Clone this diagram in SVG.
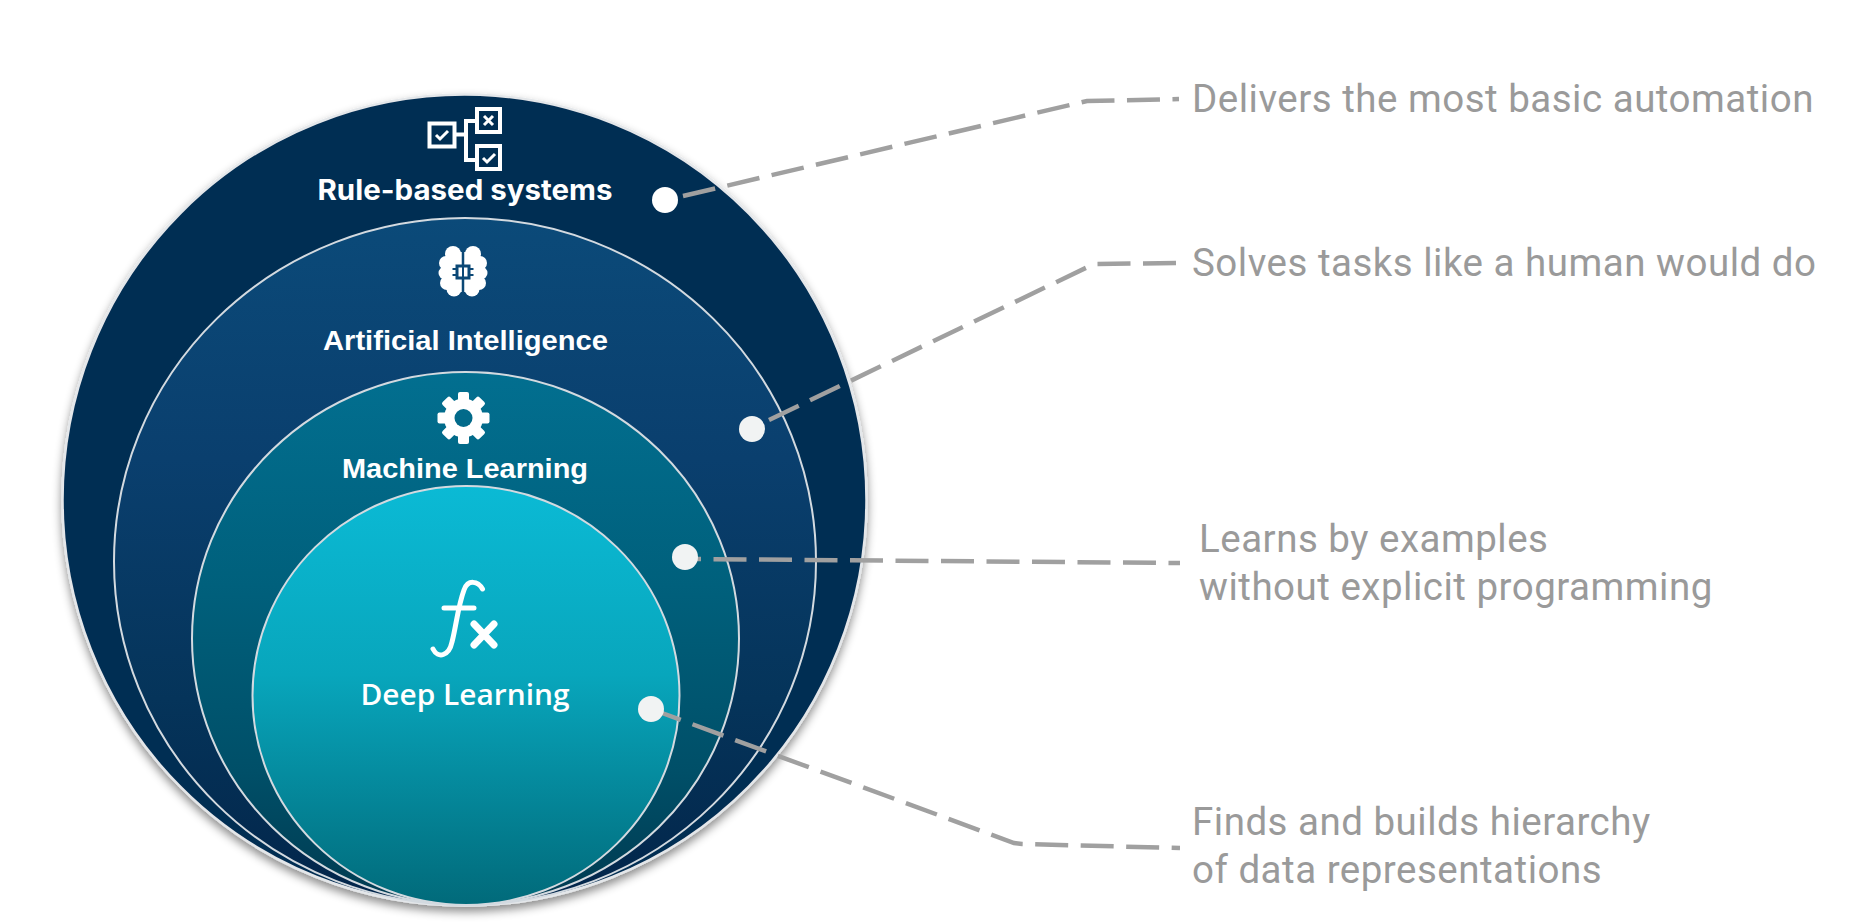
<svg xmlns="http://www.w3.org/2000/svg" width="1854" height="924" viewBox="0 0 1854 924">
<style>
.cap{font-family:"Roboto","Liberation Sans",sans-serif;font-size:38.5px;fill:#9a9a9a;letter-spacing:.5px}
.lab{fill:#fff;text-anchor:middle}
.ring{stroke:#d3dae0;stroke-width:2}
.con{fill:none;stroke:#a0a0a0;stroke-width:4.5;stroke-dasharray:33 12.5}
.ic{fill:none;stroke:#fff;stroke-width:4}
.dot{fill:#f1f3f3}
</style>
<defs>
<linearGradient id="g2" x1="0" y1="0" x2="0" y2="1"><stop offset="0" stop-color="#0b4a79"/><stop offset=".35" stop-color="#0a3f6e"/><stop offset=".7" stop-color="#05345a"/><stop offset="1" stop-color="#02254a"/></linearGradient>
<linearGradient id="g3" x1="0" y1="0" x2="0" y2="1"><stop offset="0" stop-color="#026f90"/><stop offset=".4" stop-color="#00607c"/><stop offset=".75" stop-color="#004f68"/><stop offset="1" stop-color="#003a50"/></linearGradient>
<linearGradient id="g4" x1="0" y1="0" x2="0" y2="1"><stop offset="0" stop-color="#0bbad5"/><stop offset=".45" stop-color="#08a6bc"/><stop offset="1" stop-color="#016a7a"/></linearGradient>
<filter id="sh" x="-5%" y="-5%" width="110%" height="112%"><feDropShadow dx="0" dy="5" stdDeviation="5" flood-color="#000" flood-opacity=".45"/></filter>
</defs>
<rect width="1854" height="924" fill="#fff"/>
<g id="rule-based">
<ellipse cx="464.5" cy="500" rx="402" ry="405.5" fill="#052d52" stroke="#e4e7ea" stroke-width="2.500" filter="url(#sh)"/>
<g class="ic"><rect x="429.5" y="123.5" width="25" height="23"/><rect x="477" y="109" width="23" height="23"/><rect x="477" y="146" width="23" height="23"/><path d="M455 134.500H466M477 121H466V160H477"/></g>
<path d="M436 135l4 4 8-8" fill="none" stroke="#fff" stroke-width="3"/>
<path d="M484 116l9 9m0-9l-9 9" fill="none" stroke="#fff" stroke-width="3"/>
<path d="M483 158l4 4 8-8" fill="none" stroke="#fff" stroke-width="3"/>
<text class="lab" x="465" y="200" font-family="Inter,'Liberation Sans',sans-serif" font-weight="700" font-size="28" textLength="295" lengthAdjust="spacingAndGlyphs">Rule-based systems</text>
</g>
<g id="artificial-intelligence">
<ellipse class="ring" cx="465" cy="561.500" rx="351" ry="343.500" fill="url(#g2)"/>
<g fill="#fff">
<circle cx="453" cy="254" r="8"/><circle cx="446" cy="263" r="7"/><circle cx="445" cy="273" r="6.500"/><circle cx="447" cy="283" r="7"/><circle cx="454" cy="289" r="7.500"/><rect x="448" y="252" width="14" height="40"/>
<circle cx="473" cy="254" r="8"/><circle cx="480" cy="263" r="7"/><circle cx="481" cy="273" r="6.500"/><circle cx="479" cy="283" r="7"/><circle cx="472" cy="289" r="7.500"/><rect x="464" y="252" width="14" height="40"/>
</g>
<g fill="none" stroke="#0b4876"><path stroke-width="2.500" d="M463 245V265M463 279V298"/><rect x="457" y="266" width="12" height="12" stroke-width="3"/><path stroke-width="1.800" d="M452.500 269H457M452.500 275H457M469 269H473.500M469 275H473.500"/></g>
<text class="lab" x="465.500" y="350" font-family="'Liberation Sans',Arimo,sans-serif" font-weight="700" font-size="28.500" textLength="285" lengthAdjust="spacingAndGlyphs">Artificial Intelligence</text>
</g>
<g id="machine-learning">
<ellipse class="ring" cx="465.500" cy="638.500" rx="273.500" ry="266.500" fill="url(#g3)"/>
<g fill="#fff" transform="translate(463.500 418)">
<rect x="-5.500" y="-26" width="11" height="52" rx="2"/><rect x="-5.500" y="-26" width="11" height="52" rx="2" transform="rotate(45)"/><rect x="-5.500" y="-26" width="11" height="52" rx="2" transform="rotate(90)"/><rect x="-5.500" y="-26" width="11" height="52" rx="2" transform="rotate(135)"/>
<circle r="19.500"/>
</g>
<circle cx="463.500" cy="418" r="9" fill="#026a8a"/>
<text class="lab" x="465" y="478" font-family="'Liberation Sans',Arimo,sans-serif" font-weight="700" font-size="28.500" textLength="246" lengthAdjust="spacingAndGlyphs">Machine Learning</text>
</g>
<g id="deep-learning">
<ellipse class="ring" cx="466" cy="695.500" rx="213.500" ry="209.500" fill="url(#g4)"/>
<g fill="none" stroke="#fff" stroke-linecap="round"><path stroke-width="5" d="M482.500 589C478 581 468 579 464 590 458 606 456 627 452 642 449 656 438 659 433 649M444 608H474"/><path stroke-width="7" d="M474 624L494 645M494 624L474 645"/></g>
<text class="lab" x="465" y="705" font-family="'Open Sans','Noto Sans',sans-serif" font-weight="600" font-size="29" textLength="209" lengthAdjust="spacingAndGlyphs">Deep Learning</text>
</g>
<g id="connectors">
<path class="con" d="M683 196L1087 101 1179 99"/>
<path class="con" d="M769 420L1094 264 1179 263"/>
<path class="con" stroke-dashoffset="27" d="M695 559L1180 563"/>
<path class="con" stroke-dashoffset="13" d="M662 713L1014 843 1022 844 1180 848"/>
</g>
<g id="dots">
<circle cx="665" cy="200" r="13" fill="#fff"/>
<circle class="dot" cx="752" cy="429" r="13"/>
<circle class="dot" cx="685" cy="557" r="13"/>
<circle class="dot" cx="651" cy="709" r="13"/>
</g>
<g id="captions">
<text class="cap" x="1192" y="112">Delivers the most basic automation</text>
<text class="cap" x="1192" y="276">Solves tasks like a human would do</text>
<text class="cap" x="1199" y="552">Learns by examples</text>
<text class="cap" x="1199" y="600">without explicit programming</text>
<text class="cap" x="1192" y="835">Finds and builds hierarchy</text>
<text class="cap" x="1192" y="883">of data representations</text>
</g>
</svg>
